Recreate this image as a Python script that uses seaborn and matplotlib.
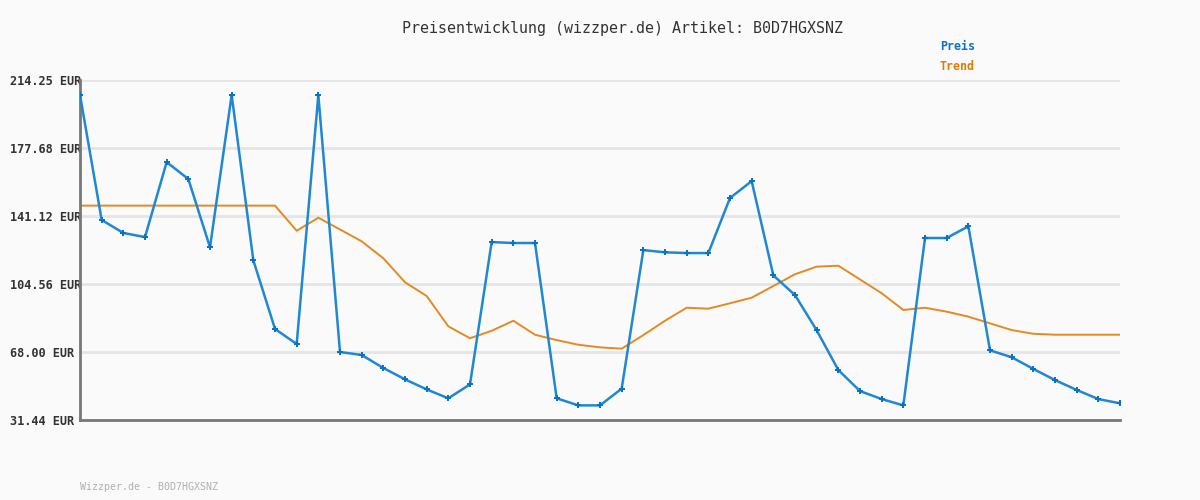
import pandas as pd
import seaborn as sns
import matplotlib.pyplot as plt

# price history (EUR)
preis = [206.2, 139.0, 132.0, 129.8, 170.1, 161.0, 124.3, 206.2, 117.3, 80.4,
         72.3, 206.2, 68.0, 66.4, 59.4, 53.3, 47.9, 43.1, 50.6, 127.1,
         126.6, 126.6, 43.1, 39.3, 39.3, 48.3, 122.8, 121.6, 121.2, 121.2,
         150.8, 159.9, 109.2, 98.6, 79.7, 58.3, 47.0, 42.7, 39.3, 129.3,
         129.3, 135.6, 68.9, 65.2, 58.9, 52.9, 47.6, 42.7, 40.4]
trend = [146.7, 146.7, 146.7, 146.7, 146.7, 146.7, 146.7, 146.7, 146.7, 146.7,
         133.2, 140.2, 133.9, 127.5, 118.4, 105.5, 98.1, 81.8, 75.4, 79.4,
         84.8, 77.3, 74.4, 71.9, 70.5, 69.8, 77.1, 84.8, 91.8, 91.3,
         94.2, 97.2, 103.5, 109.8, 113.9, 114.4, 107.0, 99.6, 90.6, 91.8,
         89.7, 87.0, 83.4, 79.8, 77.8, 77.3, 77.3, 77.3, 77.3]
y_ticks = [31.44, 68.00, 104.56, 141.12, 177.68, 214.25]
artikel = 'B0D7HGXSNZ'

df = pd.DataFrame({'idx': range(len(preis)), 'preis': preis, 'trend': trend})

sns.set_style('white', {'axes.facecolor': '#fafafa', 'figure.facecolor': '#fafafa'})
plt.rcParams['font.family'] = ['DejaVu Sans Mono', 'DejaVu Sans']

blue = '#2088d2'
orange = '#e38a22'

fig = plt.figure(figsize=(12, 5), dpi=100)
ax = fig.add_axes([80 / 1200, 80 / 500, 1040 / 1200, 340 / 500])

# horizontal grid lines
for v in y_ticks:
    ax.axhline(v, color='#e5e5e5', lw=2, zorder=0)

sns.lineplot(data=df, x='idx', y='trend', ax=ax, color=orange, lw=1.4, zorder=2)
sns.lineplot(data=df, x='idx', y='preis', ax=ax, color=blue, lw=1.8, zorder=3,
             marker='P', markersize=4, markeredgewidth=0, markerfacecolor='#0a74c4')

ax.set_xlim(0, len(preis) - 1)
ax.set_ylim(y_ticks[0], y_ticks[-1])
ax.set_xlabel('')
ax.set_ylabel('')
ax.set_xticks([])
ax.set_yticks(y_ticks)
ax.set_yticklabels([f'{v:.2f} EUR' for v in y_ticks], fontsize=8.6,
                   fontweight='bold', color='#333333', ha='left')
ax.tick_params(axis='y', length=0, pad=50.4)

for side in ['top', 'right']:
    ax.spines[side].set_visible(False)
for side in ['left', 'bottom']:
    ax.spines[side].set_color('#777777')
    ax.spines[side].set_linewidth(2)

fig.text(623 / 1200, 1 - 28 / 500, f'Preisentwicklung (wizzper.de) Artikel: {artikel}',
         ha='center', va='center', fontsize=10.8, color='#333333')
fig.text(940 / 1200, 1 - 47 / 500, 'Preis', ha='left', va='center',
         fontsize=8.4, fontweight='bold', color='#0a74c4')
fig.text(940 / 1200, 1 - 67 / 500, 'Trend', ha='left', va='center',
         fontsize=8.4, fontweight='bold', color='#e07b00')
fig.text(80 / 1200, 1 - 487 / 500, f'Wizzper.de - {artikel}', ha='left', va='center',
         fontsize=7.2, color='#b0b0b0')

plt.savefig('out.png', dpi=100, facecolor='#fafafa')
